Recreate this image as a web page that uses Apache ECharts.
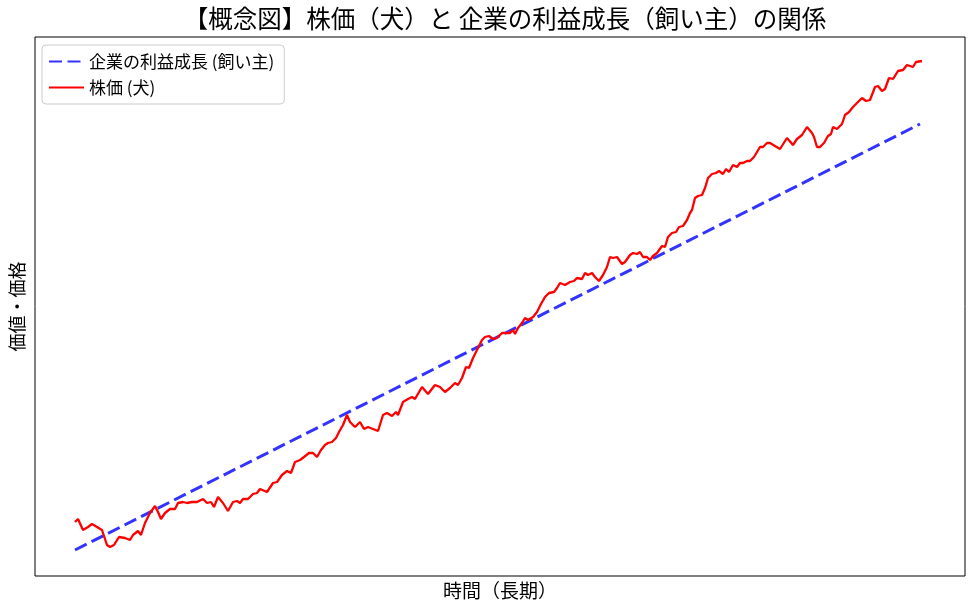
<!DOCTYPE html>
<html>
<head>
<meta charset="utf-8">
<script src="https://cdn.jsdelivr.net/npm/echarts@6/dist/echarts.min.js"></script>
<style>
html,body{margin:0;padding:0;background:#fff;}
#chart{width:973px;height:609px;}
</style>
</head>
<body>
<div id="chart"></div>
<script>
// Time axis (arbitrary long-term units) and stock price (dog)
var priceTime = [0,3,8,13,17,22,27,32,35,39,44,50,55,58,63,66,70,75,80,83,86,90,95,100,103,108,112,117,122,128,132,136,139,143,148,153,158,162,165,168,173,178,182,185,
192,198,202,207,212,216,220,225,229,234,238,242,246,250,253,257,261,264,268,272,275,280,285,289,293,298,303,308,312,317,321,323,328,333,337,340,347,353,360,365,
370,375,380,383,387,391,394,398,403,407,410,414,418,422,427,432,435,438,440,443,447,450,453,458,462,466,470,474,479,482,485,490,495,499,502,507,510,513,517,520,524,528,532,535,538,542,547,550,555,558,562,
565,568,572,575,578,582,587,590,593,597,601,604,608,612,615,617,620,623,627,630,633,637,641,644,648,651,654,658,662,665,668,672,675,679,682,685,688,692,695,
700,705,712,718,722,727,729,732,737,739,742,745,749,753,756,758,762,767,770,774,778,782,787,791,795,800,803,807,810,814,818,823,828,832,835,838,841,843,847];
var priceValue = [29,32,21,24,27,24,21,6,4,6,14,13,11,16,20,16,28,38,45,39,32,38,42,42,48,49,48,49,49,52,48,49,44,54,48,40,49,50,48,52,52,57,58,62,
59,68,69,76,80,78,89,91,94,98,98,94,101,106,108,109,113,119,126,136,129,124,129,122,124,122,120,136,138,135,139,136,149,152,154,152,164,157,166,164,
159,163,168,166,173,184,183,193,203,211,214,215,212,213,218,218,218,221,217,223,228,233,231,234,239,247,254,258,259,263,268,266,269,270,273,272,278,276,278,274,270,276,284,294,293,294,287,289,296,298,297,
299,294,294,291,295,298,305,304,314,318,319,324,325,331,338,341,353,355,356,363,373,377,378,380,377,382,379,386,384,388,388,390,390,394,399,404,404,408,408,
405,402,413,406,412,416,415,424,418,414,404,404,408,415,417,424,422,427,436,439,444,448,453,450,451,464,465,460,462,473,472,480,481,486,485,484,489,487,490];
// Corporate earnings growth (owner): straight trend
var trendTime = [0, 845];
var trendValue = [1, 427];

var titleText = '【概念図】株価（犬）と 企業の利益成長（飼い主）の関係';
var trendName = '企業の利益成長 (飼い主)';
var priceName = '株価 (犬)';
var xName = '時間（長期）';
var yName = '価値・価格';

function zip(a, b) { return a.map(function (v, i) { return [v, b[i]]; }); }

var FONT = '"Noto Sans CJK JP", "Noto Sans", sans-serif';
var chart = echarts.init(document.getElementById('chart'), null, {renderer: 'canvas'});
chart.setOption({
  backgroundColor: '#ffffff',
  animation: false,
  textStyle: {fontFamily: FONT},
  title: {
    text: titleText,
    left: 500,
    textAlign: 'center',
    top: 1,
    textStyle: {fontFamily: FONT, fontSize: 24.5, fontWeight: 'normal', color: '#000'}
  },
  legend: {
    orient: 'vertical',
    left: 42,
    top: 45,
    padding: [8, 10, 8, 6],
    itemGap: 9,
    itemWidth: 35,
    itemHeight: 14,
    itemTextGap: 13,
    backgroundColor: 'rgba(255,255,255,0.8)',
    borderColor: '#cccccc',
    borderWidth: 1,
    borderRadius: 4,
    itemStyle: {opacity: 0},
    textStyle: {fontFamily: FONT, fontSize: 17, color: '#000'},
    data: [trendName, priceName]
  },
  grid: {
    left: 35, top: 37, width: 930, height: 539,
    outerBoundsMode: 'none',
    containLabel: false,
    show: true, borderColor: '#000', borderWidth: 1, backgroundColor: 'transparent'
  },
  xAxis: {
    type: 'value', min: -40, max: 890,
    name: xName, nameLocation: 'middle', nameGap: 5,
    nameTextStyle: {fontFamily: FONT, fontSize: 19, color: '#000', verticalAlign: 'top'},
    axisLine: {show: false}, axisTick: {show: false}, axisLabel: {show: false}, splitLine: {show: false}
  },
  yAxis: {
    type: 'value', min: -25, max: 514,
    name: yName, nameLocation: 'middle', nameGap: 9,
    nameTextStyle: {fontFamily: FONT, fontSize: 18, color: '#000'},
    axisLine: {show: false}, axisTick: {show: false}, axisLabel: {show: false}, splitLine: {show: false}
  },
  series: [
    {
      name: trendName, type: 'line', showSymbol: false, symbol: 'none',
      data: zip(trendTime, trendValue),
      lineStyle: {color: 'rgba(0,0,255,0.8)', width: 3, type: [13, 5.5]},
      itemStyle: {color: 'rgba(0,0,255,0.8)'}
    },
    {
      name: priceName, type: 'line', showSymbol: false, symbol: 'none',
      data: zip(priceTime, priceValue),
      lineStyle: {color: '#ff0000', width: 2.3},
      itemStyle: {color: '#ff0000'}
    }
  ]
});
</script>
</body>
</html>
